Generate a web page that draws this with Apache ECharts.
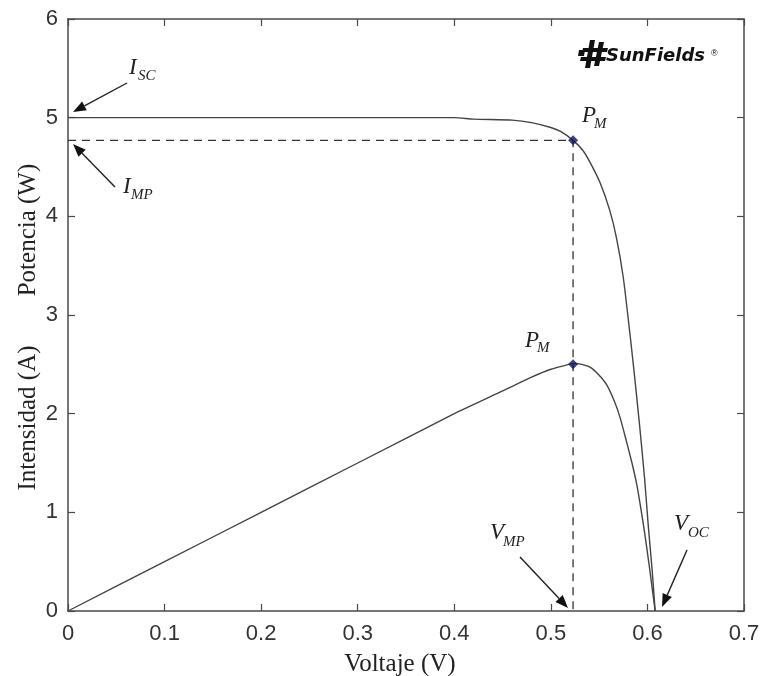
<!DOCTYPE html>
<html><head><meta charset="utf-8">
<script src="https://cdn.jsdelivr.net/npm/echarts@6/dist/echarts.min.js"></script>
<style>html,body{margin:0;padding:0;background:#fff}#c{width:762px;height:676px}</style>
</head><body><div id="c"></div><script>
// ---- data ----
const xTicks = [0, 0.1, 0.2, 0.3, 0.4, 0.5, 0.6, 0.7];
const yTicks = [0, 1, 2, 3, 4, 5, 6];
const ivVoltage = [0, 0.1, 0.2, 0.3, 0.4, 0.42, 0.46, 0.48, 0.50, 0.51, 0.523, 0.533, 0.541, 0.551, 0.561, 0.568, 0.575, 0.582, 0.587, 0.592, 0.597, 0.601, 0.605, 0.608];
const ivCurrent = [5.0, 5.0, 5.0, 5.0, 5.0, 4.985, 4.975, 4.95, 4.9, 4.86, 4.77, 4.67, 4.54, 4.34, 4.06, 3.78, 3.38, 2.8, 2.35, 1.87, 1.35, 0.85, 0.4, 0];
const pVoltage = [0, 0.1, 0.2, 0.3, 0.4, 0.45, 0.48, 0.50, 0.515, 0.523, 0.532, 0.541, 0.55, 0.558, 0.566, 0.572, 0.578, 0.584, 0.589, 0.593, 0.597, 0.602, 0.608];
const pPower = [0, 0.5, 1.0, 1.5, 2.0, 2.23, 2.37, 2.45, 2.49, 2.51, 2.5, 2.47, 2.39, 2.29, 2.12, 1.95, 1.73, 1.5, 1.28, 1.05, 0.8, 0.45, 0];
const mppVoltage = 0.523;
const mppCurrent = 4.77;
const mppPower = 2.5;

const pairs = (xs, ys) => xs.map((x, i) => [x, ys[i]]);

const chart = echarts.init(document.getElementById('c'), null, {renderer: 'canvas'});

const axisCol = '#4a4a4a';
const serif = '"Liberation Serif", "DejaVu Serif", serif';
const sans = '"Liberation Sans", Arial, sans-serif';

function arrow(x1, y1, x2, y2) {
  const a = Math.atan2(y2 - y1, x2 - x1);
  const L = 13, W = 5;
  const c = Math.cos(a), s = Math.sin(a);
  const bx = x2 - L * c, by = y2 - L * s;
  return [
    {type: 'line', shape: {x1, y1, x2: bx, y2: by}, style: {stroke: '#222', lineWidth: 1.4}, z: 50},
    {type: 'polygon', shape: {points: [[x2, y2], [bx + W * s, by - W * c], [bx - W * s, by + W * c]]}, style: {fill: '#111'}, z: 50}
  ];
}
function label(x, y, main, sub, dx, dy) {
  return [
    {type: 'text', x, y, style: {text: main, font: 'italic 23px ' + serif, fill: '#222', verticalAlign: 'top'}, z: 50},
    {type: 'text', x: x + dx, y: y + dy, style: {text: sub, font: 'italic 15px ' + serif, fill: '#222', verticalAlign: 'top'}, z: 50}
  ];
}

const logo = [
  {type: 'polygon', shape: {points: [[579, 50], [585, 50], [584, 56], [578, 56]]}, style: {fill: '#111'}},
  {type: 'polygon', shape: {points: [[590, 40], [595, 40], [590, 68], [585, 68]]}, style: {fill: '#111'}},
  {type: 'polygon', shape: {points: [[599, 42], [604, 42], [599, 66], [594, 66]]}, style: {fill: '#111'}},
  {type: 'polygon', shape: {points: [[583, 48], [608, 48], [607, 52], [582, 52]]}, style: {fill: '#111'}},
  {type: 'polygon', shape: {points: [[581, 57], [606, 57], [605, 61], [580, 61]]}, style: {fill: '#111'}},
  {type: 'text', x: 606, y: 47, style: {text: 'SunFields', font: 'italic bold 18px "DejaVu Sans", sans-serif', fill: '#111', verticalAlign: 'top'}},
  {type: 'text', x: 711, y: 49, style: {text: '®', font: '9px ' + sans, fill: '#111', verticalAlign: 'top'}}
];

const graphics = [].concat(
  label(129, 56, 'I', 'SC', 9, 13),
  arrow(127, 83, 73, 112),
  label(123, 175, 'I', 'MP', 8, 13),
  arrow(115, 187, 73, 144),
  label(582, 104, 'P', 'M', 12, 13),
  label(525, 329, 'P', 'M', 12, 12),
  label(490, 521, 'V', 'MP', 13, 14),
  arrow(520, 557, 568, 608),
  label(674, 512, 'V', 'OC', 14, 14),
  arrow(687, 550, 662, 607),
  logo,
  [
    {type: 'text', x: 400, y: 664, style: {text: 'Voltaje (V)', font: '25px ' + serif, fill: '#222', align: 'center', verticalAlign: 'middle'}},
    {type: 'text', x: 28, y: 418, rotation: Math.PI / 2, style: {text: 'Intensidad (A)', font: '25px ' + serif, fill: '#222', align: 'center', verticalAlign: 'middle'}},
    {type: 'text', x: 28, y: 230, rotation: Math.PI / 2, style: {text: 'Potencia (W)', font: '25px ' + serif, fill: '#222', align: 'center', verticalAlign: 'middle'}}
  ]
);

const commonX = {type: 'value', min: xTicks[0], max: xTicks[xTicks.length - 1], interval: 0.1,
  axisLine: {show: true, onZero: false, lineStyle: {color: axisCol, width: 1.5}},
  axisTick: {show: true, inside: true, length: 7, lineStyle: {color: axisCol, width: 1.2}},
  splitLine: {show: false}};
const commonY = {type: 'value', min: yTicks[0], max: yTicks[yTicks.length - 1], interval: 1,
  axisLine: {show: true, onZero: false, lineStyle: {color: axisCol, width: 1.5}},
  axisTick: {show: true, inside: true, length: 7, lineStyle: {color: axisCol, width: 1.2}},
  splitLine: {show: false}};

chart.setOption({
  animation: false,
  backgroundColor: '#fff',
  grid: {left: 68, right: 18, top: 19, bottom: 65, containLabel: false, outerBoundsMode: 'none'},
  xAxis: [
    Object.assign({}, commonX, {position: 'bottom',
      axisLabel: {show: true, margin: 12, fontSize: 22, fontFamily: sans, color: '#333',
        formatter: v => String(Math.round(v * 10) / 10)}}),
    Object.assign({}, commonX, {position: 'top', axisLabel: {show: false}})
  ],
  yAxis: [
    Object.assign({}, commonY, {position: 'left',
      axisLabel: {show: true, margin: 10, fontSize: 22, fontFamily: sans, color: '#333'}}),
    Object.assign({}, commonY, {position: 'right', axisLabel: {show: false}})
  ],
  series: [
    {type: 'line', name: 'I-V', data: pairs(ivVoltage, ivCurrent), showSymbol: false, smooth: 0.2,
      lineStyle: {color: '#444', width: 1.4}, z: 3},
    {type: 'line', name: 'P-V', data: pairs(pVoltage, pPower), showSymbol: false, smooth: 0.2,
      lineStyle: {color: '#444', width: 1.4}, z: 3},
    {type: 'line', name: 'MPP guide', data: [[0, mppCurrent], [mppVoltage, mppCurrent], [mppVoltage, 0]],
      showSymbol: false, lineStyle: {color: '#333', width: 1.3, type: [8, 6]}, z: 2},
    {type: 'scatter', name: 'PM', data: [[mppVoltage, mppCurrent], [mppVoltage, mppPower]],
      symbol: 'diamond', symbolSize: 10, itemStyle: {color: '#14145a'}, z: 5}
  ],
  graphic: graphics
});
</script></body></html>
